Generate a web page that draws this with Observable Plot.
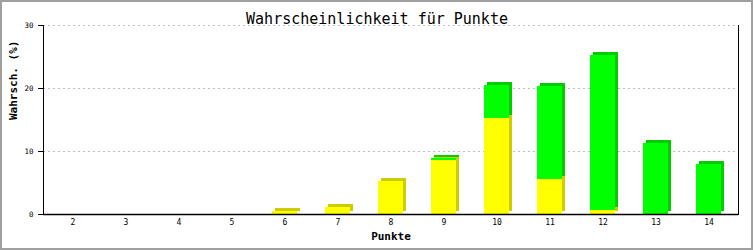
<!DOCTYPE html>
<html>
<head>
<meta charset="utf-8">
<script src="https://cdn.jsdelivr.net/npm/d3@7"></script>
<script src="https://cdn.jsdelivr.net/npm/@observablehq/plot@0.6"></script>
<style>
  html, body { margin: 0; padding: 0; background: #ffffff; }
</style>
</head>
<body>
<div id="chart"></div>
<script>
const titel = "Wahrscheinlichkeit für Punkte";
const xTitel = "Punkte";
const yTitel = "Wahrsch. (%)";
const punkte = [2, 3, 4, 5, 6, 7, 8, 9, 10, 11, 12, 13, 14];
const gelb  = [0, 0, 0, 0, 0.4, 1.05, 5.3, 8.5, 15.3, 5.5, 0.7, 0, 0];
const gruen = [0, 0, 0, 0, 0, 0, 0, 0.4, 5.1, 14.75, 24.6, 11.2, 7.9];
const yTicks = [0, 10, 20, 30];

const rows = [];
punkte.forEach((p, i) => {
  rows.push({punkte: p, serie: "gelb", wert: gelb[i]});
  rows.push({punkte: p, serie: "grün", wert: gruen[i]});
});
const front = {"gelb": "#ffff00", "grün": "#00ff00"};
const side  = {"gelb": "#cccc00", "grün": "#00cc00"};

const mono = "'DejaVu Sans Mono', 'Liberation Mono', monospace";

const chart = Plot.plot({
  width: 753,
  height: 250,
  marginLeft: 43,
  marginRight: 15,
  marginTop: 25,
  marginBottom: 36,
  style: {
    fontFamily: mono,
    background: "#ffffff",
    outline: "2px solid #a0a0a0",
    outlineOffset: "-2px"
  },
  x: {domain: punkte, paddingInner: 0.52, paddingOuter: 0.26},
  y: {domain: [0, 30]},
  marks: [
    Plot.gridY(yTicks.slice(1), {stroke: "#c0c0c0", strokeOpacity: 1, strokeDasharray: "2,3"}),
    Plot.barY(rows, {x: "punkte", y: "wert", fill: d => side[d.serie], dx: 3, dy: -3, shapeRendering: "crispEdges"}),
    Plot.barY(rows, {x: "punkte", y: "wert", fill: d => front[d.serie], shapeRendering: "crispEdges"}),
    Plot.frame({anchor: "left", stroke: "#000", shapeRendering: "crispEdges"}),
    Plot.frame({anchor: "right", stroke: "#000", shapeRendering: "crispEdges"}),
    Plot.ruleY([0], {stroke: "#000", strokeWidth: 1.5}),
    Plot.axisY(yTicks, {tickSize: 5, tickPadding: 5, fontSize: 7.5, label: null, stroke: "#000"}),
    Plot.axisX({tickSize: 0, tickPadding: 5, fontSize: 8, label: null}),
    Plot.text([titel], {frameAnchor: "top", dx: -14, dy: -12, fontSize: 15, fill: "#000"}),
    Plot.text([xTitel], {frameAnchor: "bottom", dy: 25, fontSize: 11, fontWeight: "bold", fill: "#000"}),
    Plot.text([yTitel], {frameAnchor: "left", dx: -30, rotate: -90, fontSize: 11, fontWeight: "bold", fill: "#000"})
  ]
});
document.getElementById("chart").appendChild(chart);
</script>
</body>
</html>
